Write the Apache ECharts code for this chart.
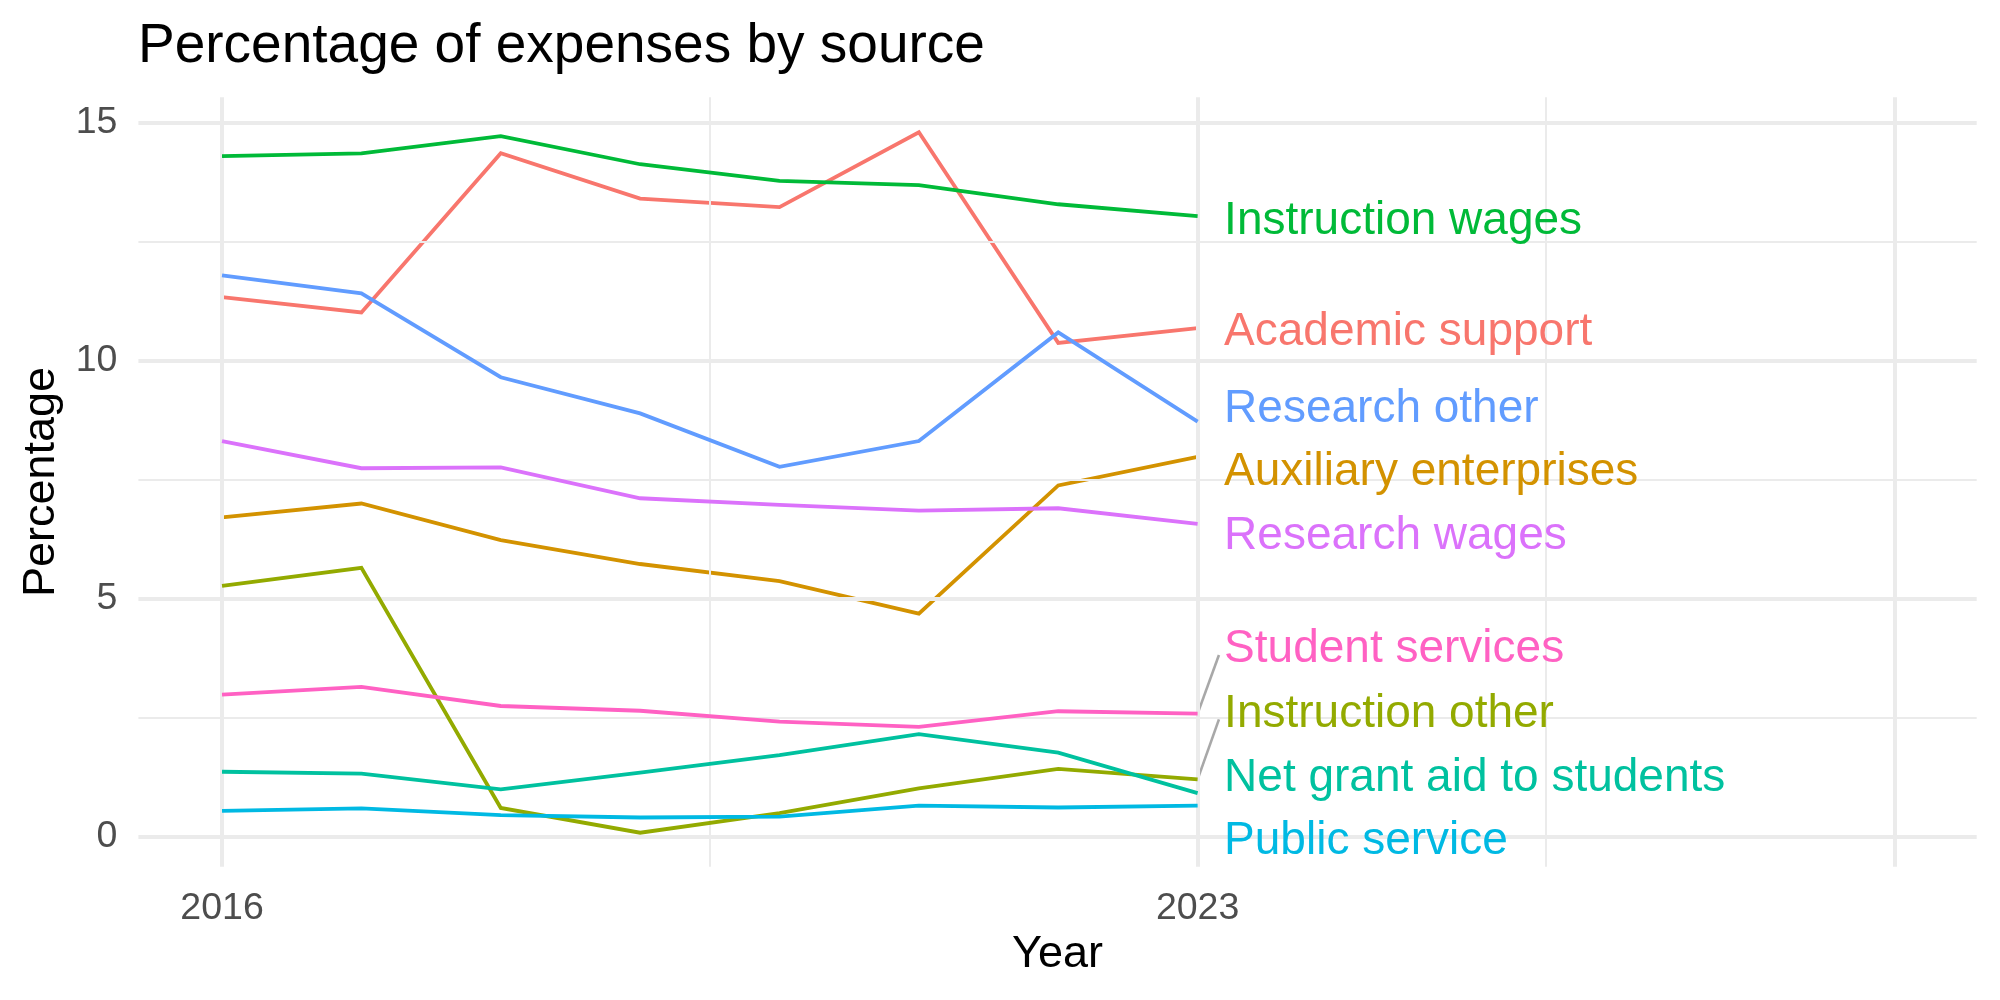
<!DOCTYPE html>
<html><head><meta charset="utf-8">
<script src="https://cdn.jsdelivr.net/npm/echarts@6/dist/echarts.min.js"></script>
<style>html,body{margin:0;padding:0;background:#fff}#c{width:2000px;height:1000px}</style>
</head><body><div id="c"></div>
<script>
// ---- data ----
const years = [2016, 2017, 2018, 2019, 2020, 2021, 2022, 2023];
const academicSupport      = [11.33, 11.01, 14.35, 13.40, 13.22, 14.79, 10.37, 10.68];
const auxiliaryEnterprises = [6.71, 7.00, 6.23, 5.73, 5.37, 4.69, 7.38, 7.98];
const instructionOther     = [5.27, 5.65, 0.61, 0.09, 0.50, 1.02, 1.43, 1.21];
const instructionWages     = [14.29, 14.35, 14.71, 14.12, 13.77, 13.68, 13.28, 13.03];
const netGrantAid          = [1.37, 1.33, 1.00, 1.35, 1.72, 2.16, 1.77, 0.92];
const publicService        = [0.55, 0.60, 0.46, 0.41, 0.43, 0.66, 0.62, 0.66];
const researchOther        = [11.79, 11.41, 9.65, 8.89, 7.77, 8.31, 10.59, 8.72];
const researchWages        = [8.31, 7.74, 7.76, 7.11, 6.97, 6.85, 6.90, 6.57];
const studentServices      = [2.99, 3.15, 2.75, 2.65, 2.42, 2.31, 2.64, 2.59];
const seriesNames = ['Academic support', 'Auxiliary enterprises', 'Instruction other',
  'Instruction wages', 'Net grant aid to students', 'Public service',
  'Research other', 'Research wages', 'Student services'];
const seriesValues = [academicSupport, auxiliaryEnterprises, instructionOther,
  instructionWages, netGrantAid, publicService, researchOther, researchWages, studentServices];
const xTickValues = [2016, 2023];
const yTickValues = [0, 5, 10, 15];

// ---- layout / style ----
const colors = ['#F8766D', '#D39200', '#93AA00', '#00BA38', '#00C19F', '#00B9E3', '#619CFF', '#DB72FB', '#FF61C3'];
// repelled label positions (y in data units) and connector flags
const labelLayout = {
  x: 2023.19,
  y: [10.59, 7.65, 2.58, 12.93, 1.24, -0.08, 8.97, 6.31, 3.93],
  segment: [false, false, true, false, false, false, false, false, true],
  segX: 2023.153, segDy: -0.11
};
const FONT = "'Liberation Sans', Arial, Helvetica, sans-serif";
const xMin = 2015.40, xMax = 2028.59, yMin = -0.623, yMax = 15.525;
const grid = { left: 138.4, right: 23.3, top: 97.3, bottom: 133.3 };
const gridColor = '#EBEBEB';

const chart = echarts.init(document.getElementById('c'), null, { renderer: 'canvas' });

const gridSeries = {
  type: 'line', data: [], z: 1, silent: true, animation: false,
  markLine: {
    silent: true, symbol: ['none', 'none'], animation: false, label: { show: false },
    emphasis: { disabled: true },
    data: [
      ...[2016, 2023, 2028].map(v => ({ xAxis: v, lineStyle: { color: gridColor, width: 4, type: 'solid' } })),
      ...[2019.5, 2025.5].map(v => ({ xAxis: v, lineStyle: { color: gridColor, width: 2, type: 'solid' } })),
      ...[0, 5, 10, 15].map(v => ({ yAxis: v, lineStyle: { color: gridColor, width: 4, type: 'solid' } })),
      ...[2.5, 7.5, 12.5].map(v => ({ yAxis: v, lineStyle: { color: gridColor, width: 2, type: 'solid' } }))
    ]
  }
};

const lineSeries = seriesNames.map((name, i) => ({
  name, type: 'line', z: 3 + i, silent: true, animation: false,
  data: years.map((y, j) => [y, seriesValues[i][j]]),
  showSymbol: false, symbol: 'none',
  lineStyle: { color: colors[i], width: 3.8, join: 'miter', opacity: 1 }
}));

const labelSeries = {
  type: 'scatter', z: 20, silent: true, animation: false,
  symbol: 'circle', symbolSize: 0.01,
  itemStyle: { opacity: 1 },
  data: seriesNames.map((name, i) => ({
    value: [labelLayout.x, labelLayout.y[i]],
    itemStyle: { opacity: 1, color: colors[i] },
    label: {
      show: true, position: 'right', distance: 0, formatter: name, opacity: 1,
      color: colors[i], fontSize: 46, fontFamily: FONT, align: 'left', verticalAlign: 'middle'
    }
  }))
};

const segSeries = seriesNames.map((name, i) => labelLayout.segment[i] ? ({
  type: 'line', z: 2, silent: true, animation: false, showSymbol: false, symbol: 'none',
  data: [[years[years.length - 1], seriesValues[i][seriesValues[i].length - 1]],
         [labelLayout.segX, labelLayout.y[i] + labelLayout.segDy]],
  lineStyle: { color: '#A8A8A8', width: 2.6 }
}) : null).filter(Boolean);

chart.setOption({
  backgroundColor: '#ffffff',
  animation: false,
  grid: { left: grid.left, right: grid.right, top: grid.top, bottom: grid.bottom, containLabel: false },
  xAxis: {
    type: 'value', min: xMin, max: xMax,
    axisLine: { show: false }, axisTick: { show: false }, splitLine: { show: false },
    axisLabel: {
      customValues: xTickValues, formatter: v => String(v),
      color: '#4D4D4D', fontSize: 37.5, fontFamily: FONT, margin: 23
    }
  },
  yAxis: {
    type: 'value', min: yMin, max: yMax,
    axisLine: { show: false }, axisTick: { show: false }, splitLine: { show: false },
    axisLabel: {
      customValues: yTickValues, formatter: v => String(v),
      color: '#4D4D4D', fontSize: 37.5, fontFamily: FONT, margin: 21
    }
  },
  graphic: [
    { type: 'text', x: 138, y: 46.5, style: { text: 'Percentage of expenses by source', font: `55px ${FONT}`, fill: '#000', align: 'left', verticalAlign: 'middle' } },
    { type: 'text', x: 1057.5, y: 955, style: { text: 'Year', font: `45px ${FONT}`, fill: '#000', align: 'center', verticalAlign: 'middle' } },
    { type: 'text', x: 42, y: 482, rotation: Math.PI / 2, style: { text: 'Percentage', font: `45px ${FONT}`, fill: '#000', align: 'center', verticalAlign: 'middle' } }
  ],
  series: [gridSeries, ...segSeries, ...lineSeries, labelSeries]
});
</script></body></html>
